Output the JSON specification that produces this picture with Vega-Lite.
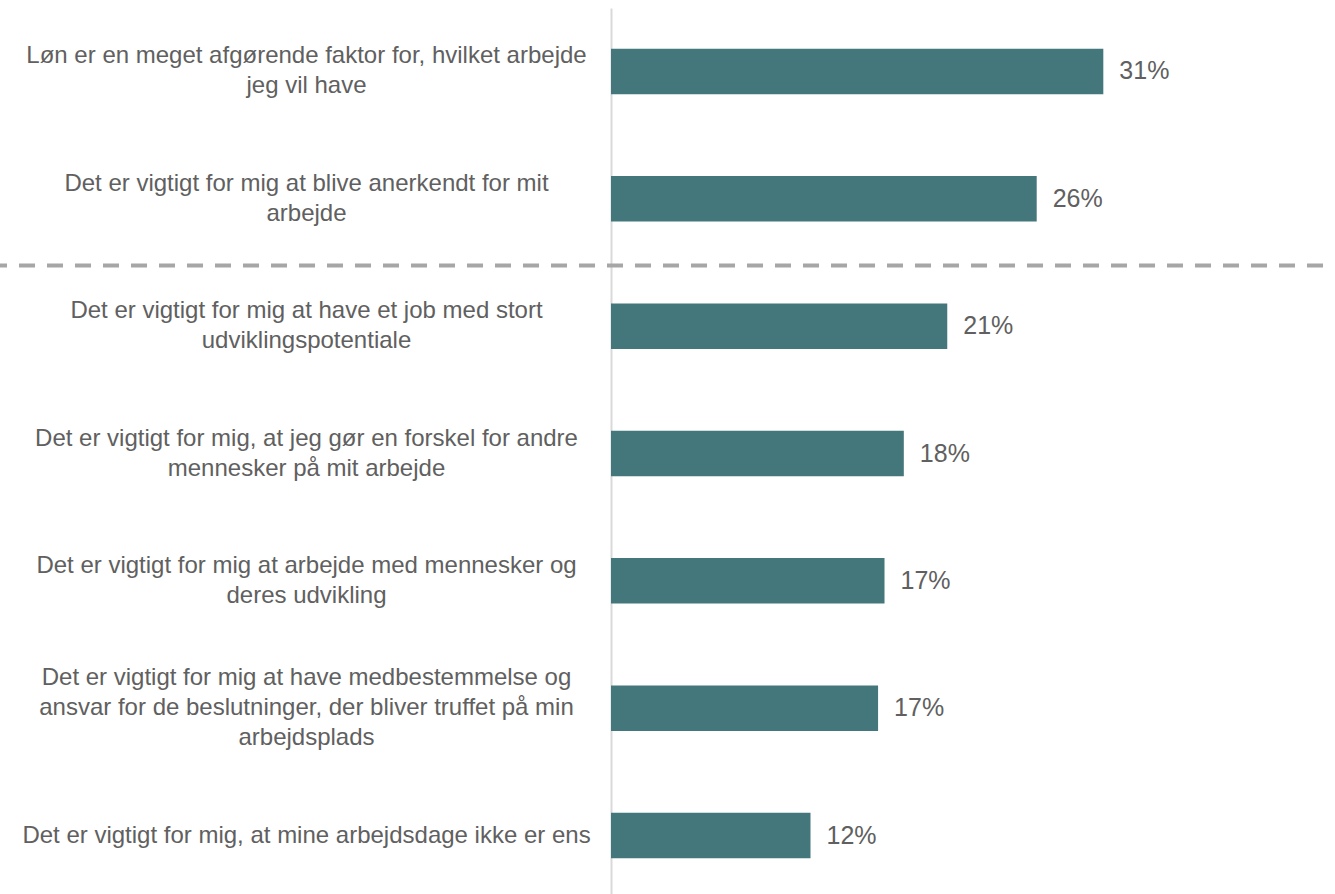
{
  "$schema": "https://vega.github.io/schema/vega-lite/v6.json",
  "width": 724,
  "height": 891,
  "autosize": "none",
  "padding": {"left": 611, "top": 8, "right": 0, "bottom": 0},
  "background": "white",
  "config": {"view": {"stroke": null}},
  "data": {
    "values": [
      {"statement": "Løn er en meget afgørende faktor for, hvilket arbejde\njeg vil have", "value": 30.6, "label": "31%"},
      {"statement": "Det er vigtigt for mig at blive anerkendt for mit\narbejde", "value": 26.46, "label": "26%"},
      {"statement": "Det er vigtigt for mig at have et job med stort\nudviklingspotentiale", "value": 20.9, "label": "21%"},
      {"statement": "Det er vigtigt for mig, at jeg gør en forskel for andre\nmennesker på mit arbejde", "value": 18.2, "label": "18%"},
      {"statement": "Det er vigtigt for mig at arbejde med mennesker og\nderes udvikling", "value": 17.0, "label": "17%"},
      {"statement": "Det er vigtigt for mig at have medbestemmelse og\nansvar for de beslutninger, der bliver truffet på min\narbejdsplads", "value": 16.6, "label": "17%"},
      {"statement": "Det er vigtigt for mig, at mine arbejdsdage ikke er ens", "value": 12.4, "label": "12%"}
    ]
  },
  "encoding": {
    "y": {
      "field": "statement",
      "type": "nominal",
      "sort": null,
      "scale": {"paddingInner": 0.643, "paddingOuter": 0.32},
      "axis": {
        "title": null,
        "ticks": false,
        "domainColor": "#D9D9D9",
        "domainWidth": 2,
        "labelAlign": "center",
        "labelBaseline": "middle",
        "labelPadding": 305,
        "labelFont": "Liberation Sans",
        "labelFontSize": 24,
        "labelColor": "#606060",
        "labelLineHeight": 30,
        "labelLimit": 800,
        "labelOffset": {
          "condition": [
            {"test": "indexof(datum.value, 'arbejdsplads') >= 0", "value": -30},
            {"test": "indexof(datum.value, '\\n') >= 0", "value": -15}
          ],
          "value": 0
        },
        "labelExpr": "split(datum.value, '\\n')"
      }
    },
    "x": {
      "field": "value",
      "type": "quantitative",
      "scale": {"domain": [0, 45]},
      "axis": null
    }
  },
  "layer": [
    {
      "mark": {"type": "bar", "color": "#44777B"}
    },
    {
      "mark": {"type": "text", "align": "left", "baseline": "middle", "dx": 16, "font": "Liberation Sans", "fontSize": 25, "color": "#606060"},
      "encoding": {"text": {"field": "label"}}
    },
    {
      "data": {"values": [{"statement": "Det er vigtigt for mig at have et job med stort\nudviklingspotentiale", "from": -38.1, "to": 46}]},
      "mark": {"type": "rule", "strokeDash": [16, 12], "strokeDashOffset": 7, "strokeWidth": 4, "color": "#A6A6A6", "yOffset": -38},
      "encoding": {
        "y": {"field": "statement", "type": "nominal", "sort": null, "bandPosition": 0},
        "x": {"field": "from", "type": "quantitative"},
        "x2": {"field": "to"}
      }
    }
  ]
}
